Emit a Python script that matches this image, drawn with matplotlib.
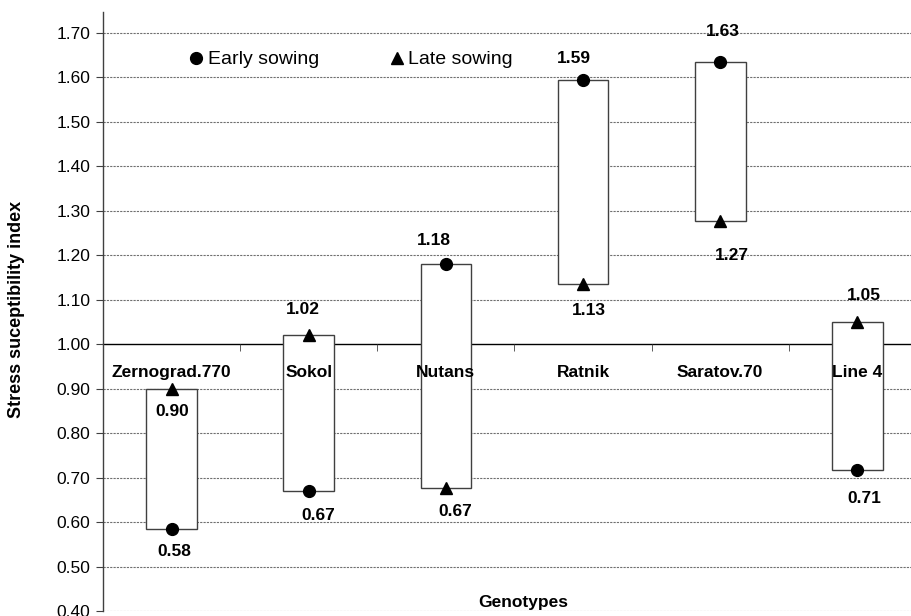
import matplotlib
matplotlib.use("Agg")
import matplotlib.pyplot as plt
from matplotlib.lines import Line2D
import numpy as np

plt.rcParams['font.family'] = ['Liberation Sans', 'DejaVu Sans']

genotypes = ["Zernograd.770", "Sokol", "Nutans", "Ratnik", "Saratov.70", "Line 4"]
early = [0.585, 0.67, 1.18, 1.593, 1.635, 0.717]
late = [0.90, 1.02, 0.677, 1.135, 1.277, 1.05]
early_labels = ["0.58", "0.67", "1.18", "1.59", "1.63", "0.71"]
late_labels = ["0.90", "1.02", "0.67", "1.13", "1.27", "1.05"]
yticks = [0.40, 0.50, 0.60, 0.70, 0.80, 0.90, 1.00, 1.10, 1.20, 1.30, 1.40, 1.50, 1.60, 1.70]

# label offsets in pixels (dx, dy) relative to marker
early_off = [(3, -23), (10, -25), (-12, 24), (-9, 22), (3, 30), (7, -28)]
late_off = [(1, -23), (-6, 26), (9, -24), (6, -26), (12, -34), (6, 26)]

W, H = 912, 616
fig = plt.figure(figsize=(W / 100, H / 100), dpi=100)
ax = fig.add_axes([103 / W, 5 / H, (926 - 103) / W, (611 - 12) / H])


def fx(px):
    return px / W


def fy(py):
    return 1 - py / H


x = np.arange(len(genotypes))
ax.set_xlim(-0.5, 5.5)
ax.set_ylim(0.40, 1.747)

# gridlines
for yv in yticks:
    if abs(yv - 1.0) > 1e-9:
        ax.axhline(yv, color='#707070', lw=0.8, ls=(0, (2, 1)), zorder=0)

lo = np.minimum(early, late)
hi = np.maximum(early, late)
ax.bar(x, hi - lo, bottom=lo, width=0.37, facecolor='white', edgecolor='#404040', lw=1.0, zorder=2)

ax.plot(x, early, 'o', color='black', ms=8.5, ls='none', zorder=4, clip_on=False)
ax.plot(x, late, '^', color='black', ms=9, ls='none', zorder=4, clip_on=False)

FS = 12.5
for i in range(len(genotypes)):
    dx, dy = early_off[i]
    ax.annotate(early_labels[i], (x[i], early[i]), xytext=(dx * 0.72, dy * 0.72), textcoords='offset points',
                ha='center', va='center', fontsize=FS, fontweight='bold', zorder=5)
    dx, dy = late_off[i]
    ax.annotate(late_labels[i], (x[i], late[i]), xytext=(dx * 0.72, dy * 0.72), textcoords='offset points',
                ha='center', va='center', fontsize=FS, fontweight='bold', zorder=5)

# axes styling
for s in ['top', 'right']:
    ax.spines[s].set_visible(False)
ax.spines['left'].set_color('#404040')
ax.spines['left'].set_linewidth(1.0)
ax.spines['bottom'].set_position(('data', 1.0))
ax.spines['bottom'].set_color('black')
ax.spines['bottom'].set_linewidth(1.0)
ax.spines['bottom'].set_zorder(1)

ax.set_yticks(yticks)
ax.set_yticklabels([f"{v:.2f}" for v in yticks], fontsize=FS)
ax.tick_params(axis='y', direction='out', length=5, color='#404040', pad=4)

ax.set_xticks(x)
ax.set_xticklabels(genotypes, fontsize=FS, fontweight='bold')
ax.tick_params(axis='x', which='major', length=0, pad=15)
ax.set_xticks(np.arange(0.5, 5.0, 1.0), minor=True)
ax.tick_params(axis='x', which='minor', direction='out', length=5, color='#404040')
ax.xaxis.set_zorder(5)

ax.text(2.566, 0.42, "Genotypes", ha='center', va='center', fontsize=FS, fontweight='bold')
fig.text(fx(17), fy(309), "Stress suceptibility index", rotation=90, ha='center', va='center',
         fontsize=13, fontweight='bold')

# legend (manual)
fig.add_artist(Line2D([fx(196)], [fy(58)], marker='o', color='black', ms=8.5, ls='none'))
fig.text(fx(208), fy(59), "Early sowing", ha='left', va='center', fontsize=14)
fig.add_artist(Line2D([fx(397)], [fy(58)], marker='^', color='black', ms=9, ls='none'))
fig.text(fx(408), fy(59), "Late sowing", ha='left', va='center', fontsize=14)

fig.savefig("out.png", dpi=100)
